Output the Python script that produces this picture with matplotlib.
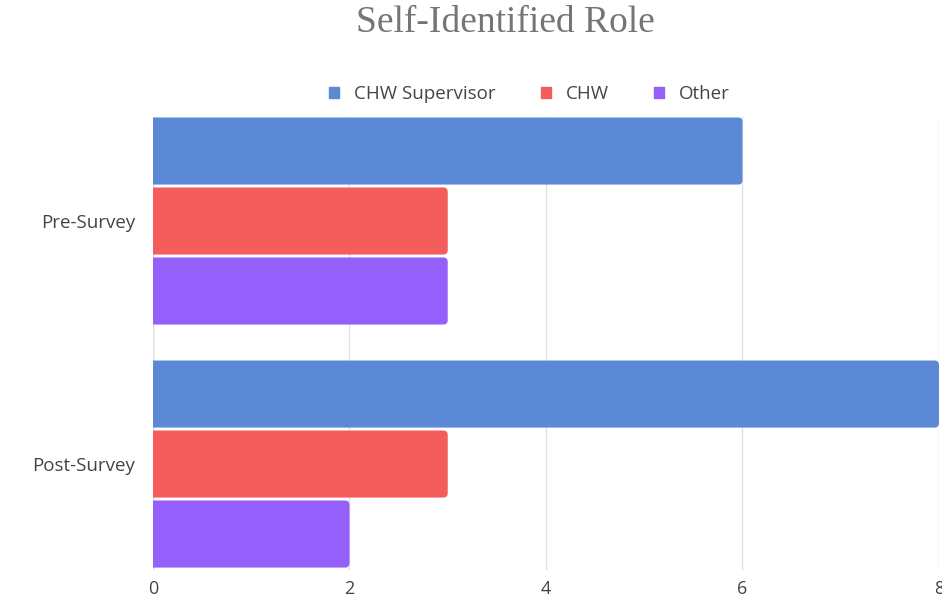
import matplotlib.pyplot as plt
from matplotlib.patches import FancyBboxPatch
import numpy as np

# data
categories = ['Pre-Survey', 'Post-Survey']
series_names = ['CHW Supervisor', 'CHW', 'Other']
supervisor = [6, 8]
chw = [3, 3]
other = [3, 2]
colors = ['#5b89d6', '#f55c5c', '#945ffa']
x_ticks = [0, 2, 4, 6, 8]

plt.rcParams['font.family'] = ['Open Sans', 'DejaVu Sans']

fig = plt.figure(figsize=(9.42, 5.96), dpi=100)
ax = fig.add_axes([0.1624, 0.0436, 0.8344, 0.7601])

y = np.arange(len(categories))
step = 0.288
height = 0.276
values = [supervisor, chw, other]
for i, (name, vals) in enumerate(zip(series_names, values)):
    bars = ax.barh(y + (i - 1) * step, vals, height=height, color=colors[i],
                   label=name, zorder=3)
    # swap plain rectangles for ones with rounded right ends
    for b in bars:
        x0, y0 = b.get_xy()
        patch = FancyBboxPatch((x0 - 0.1, y0), b.get_width() + 0.1, b.get_height(),
                               boxstyle='round,pad=0,rounding_size=0.045',
                               mutation_aspect=0.41, facecolor=colors[i],
                               edgecolor='none', zorder=3)
        ax.add_patch(patch)
        b.set_visible(False)

ax.set_xlim(0, 8)
ax.set_ylim(1.436, -0.428)
ax.set_yticks(y)
ax.set_yticklabels(categories, fontsize=13.5, color='#444444')
ax.set_xticks(x_ticks)
ax.set_xticklabels([str(t) for t in x_ticks], fontsize=13, color='#444444')
ax.tick_params(axis='both', length=0)
ax.tick_params(axis='y', pad=13)
ax.tick_params(axis='x', pad=7)
ax.grid(axis='x', color='#e0e0e0', linewidth=1, zorder=0)
for s in ax.spines.values():
    s.set_visible(False)
ax.axvline(0, color='#d0d0d0', linewidth=1, zorder=1)

fig.text(0.537, 0.962, 'Self-Identified Role', ha='center', va='center',
         fontsize=27, color='#757575', family='Liberation Serif')

handles = [plt.Rectangle((0, 0), 1, 1, color=c) for c in colors]
fig.legend(handles, series_names, loc='center', bbox_to_anchor=(0.562, 0.842),
           ncol=3, frameon=False, fontsize=13.5, handlelength=0.55,
           handleheight=0.55, handletextpad=0.8, columnspacing=2.4,
           labelcolor='#444444')

fig.savefig('out.png', dpi=100)
